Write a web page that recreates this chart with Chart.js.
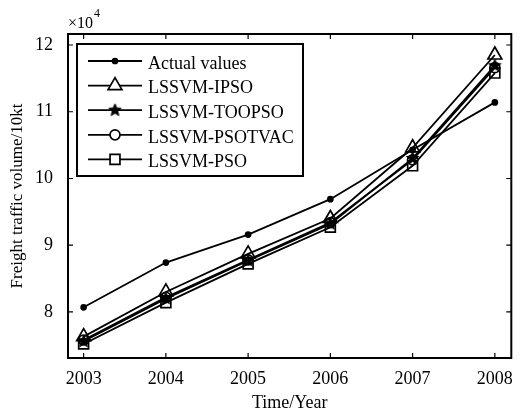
<!DOCTYPE html>
<html>
<head>
<meta charset="utf-8">
<script src="https://cdn.jsdelivr.net/npm/chart.js@4.4.1/dist/chart.umd.min.js"></script>
<style>
  html, body { margin: 0; padding: 0; background: #fff; }
  #wrap { width: 521px; height: 412px; }
</style>
</head>
<body>
<div id="wrap"><canvas id="freightChart" width="521" height="412"></canvas></div>
<script>
// values in units of 10^4 x 10kt
const years = [2003, 2004, 2005, 2006, 2007, 2008];
const actualValues = [8.07, 8.74, 9.16, 9.69, 10.43, 11.14];
const ipsoValues = [7.63, 8.30, 8.87, 9.40, 10.46, 11.85];
const tooPsoValues = [7.56, 8.20, 8.77, 9.32, 10.30, 11.69];
const psotvacValues = [7.58, 8.22, 8.78, 9.34, 10.28, 11.66];
const psoValues = [7.52, 8.14, 8.72, 9.27, 10.19, 11.58];
const seriesLabels = ['Actual values', 'LSSVM-IPSO', 'LSSVM-TOOPSO', 'LSSVM-PSOTVAC', 'LSSVM-PSO'];
const xTicks = [2003, 2004, 2005, 2006, 2007, 2008];
const yTicks = [8, 9, 10, 11, 12];

const FONT = "'Liberation Serif', 'Times New Roman', serif";

// filled pentagram marker for TOOPSO
function makeStar(r) {
    const c = document.createElement('canvas');
    const s = Math.ceil(r * 2 + 2);
    c.width = s; c.height = s;
    const g = c.getContext('2d');
    g.fillStyle = '#000';
    g.strokeStyle = '#000';
    g.lineWidth = 1;
    g.beginPath();
    for (let i = 0; i < 10; i++) {
        const rad = i % 2 === 0 ? r : r * 0.45;
        const a = -Math.PI / 2 + i * Math.PI / 5;
        const px = s / 2 + rad * Math.cos(a);
        const py = s / 2 + rad * Math.sin(a);
        if (i === 0) g.moveTo(px, py); else g.lineTo(px, py);
    }
    g.closePath();
    g.fill();
    g.stroke();
    return c;
}
const starImg = makeStar(6.5);

function pts(values) {
    return values.map((v, i) => ({ x: years[i], y: v }));
}

const markerStyles = [
    { pointStyle: 'circle', radius: 2.5, filled: true },
    { pointStyle: 'triangle', radius: 8, filled: false },
    { pointStyle: starImg, radius: 6.5, filled: true },
    { pointStyle: 'circle', radius: 5, filled: false },
    { pointStyle: 'rect', radius: 7, filled: false }
];
const seriesData = [actualValues, ipsoValues, tooPsoValues, psotvacValues, psoValues];

const datasets = seriesData.map((vals, i) => ({
    label: seriesLabels[i],
    data: pts(vals),
    borderColor: '#000',
    borderWidth: 1.8,
    backgroundColor: markerStyles[i].filled ? '#000' : 'rgba(255,255,255,0)',
    pointStyle: markerStyles[i].pointStyle,
    pointRadius: markerStyles[i].radius,
    pointBorderColor: '#000',
    pointBorderWidth: 1.7,
    pointBackgroundColor: markerStyles[i].filled ? '#000' : 'rgba(255,255,255,0)',
    tension: 0,
    fill: false
}));

// box, inward ticks, legend and exponent label (MATLAB look)
const matlabFrame = {
    id: 'matlabFrame',
    afterDraw(chart) {
        const { ctx, chartArea: a, scales } = chart;
        ctx.save();
        ctx.strokeStyle = '#000';
        ctx.lineWidth = 2;
        ctx.strokeRect(a.left, a.top, a.right - a.left, a.bottom - a.top);

        const tl = 5;
        ctx.lineWidth = 1.2;
        ctx.beginPath();
        xTicks.forEach(t => {
            const px = scales.x.getPixelForValue(t);
            ctx.moveTo(px, a.bottom); ctx.lineTo(px, a.bottom - tl);
            ctx.moveTo(px, a.top); ctx.lineTo(px, a.top + tl);
        });
        yTicks.forEach(t => {
            const py = scales.y.getPixelForValue(t);
            ctx.moveTo(a.left, py); ctx.lineTo(a.left + tl, py);
            ctx.moveTo(a.right, py); ctx.lineTo(a.right - tl, py);
        });
        ctx.stroke();

        // exponent
        ctx.fillStyle = '#000';
        ctx.textBaseline = 'alphabetic';
        ctx.textAlign = 'left';
        ctx.font = '16px ' + FONT;
        ctx.fillText('\u00d710', a.left, 28);
        ctx.font = '12px ' + FONT;
        ctx.fillText('4', a.left + 26, 17);

        // legend
        const box = { l: 77, t: 44, r: 303, b: 176 };
        ctx.fillStyle = '#fff';
        ctx.fillRect(box.l, box.t, box.r - box.l, box.b - box.t);
        ctx.lineWidth = 2;
        ctx.strokeRect(box.l, box.t, box.r - box.l, box.b - box.t);
        ctx.font = '18px ' + FONT;
        ctx.textBaseline = 'middle';
        chart.data.datasets.forEach((ds, i) => {
            const y = 63 + i * 24.6;
            ctx.strokeStyle = '#000';
            ctx.lineWidth = 1.8;
            ctx.beginPath();
            ctx.moveTo(88, y - 2); ctx.lineTo(142, y - 2);
            ctx.stroke();
            ctx.fillStyle = markerStyles[i].filled ? '#000' : '#fff';
            ctx.lineWidth = ds.pointBorderWidth;
            Chart.helpers.drawPoint(ctx, {
                pointStyle: ds.pointStyle,
                radius: ds.pointRadius,
                borderWidth: ds.pointBorderWidth,
                rotation: 0
            }, 115, y - 2);
            ctx.fillStyle = '#000';
            ctx.fillText(ds.label, 148, y + 1);
        });
        ctx.restore();
    }
};

const tickFont = { family: FONT, size: 18 };

new Chart(document.getElementById('freightChart'), {
    type: 'line',
    data: { datasets },
    options: {
        responsive: false,
        animation: false,
        layout: { padding: { top: 34, right: 2, left: 0, bottom: 0 } },
        plugins: { legend: { display: false }, tooltip: { enabled: false } },
        scales: {
            x: {
                type: 'linear',
                min: 2002.81,
                max: 2008.2,
                grid: { display: false },
                border: { display: false },
                afterBuildTicks: s => { s.ticks = xTicks.map(v => ({ value: v })); },
                afterFit: s => { s.height = 54; },
                ticks: {
                    color: '#000',
                    font: tickFont,
                    padding: 2,
                    maxRotation: 0,
                    callback: v => String(v)
                },
                title: {
                    display: true,
                    text: 'Time/Year',
                    color: '#000',
                    font: { family: FONT, size: 18, lineHeight: 1.0 },
                    padding: { top: 0, bottom: 0 }
                }
            },
            y: {
                type: 'linear',
                min: 7.31,
                max: 12.165,
                grid: { display: false },
                border: { display: false },
                afterBuildTicks: s => { s.ticks = yTicks.map(v => ({ value: v })); },
                afterFit: s => { s.width = 68; },
                ticks: {
                    color: '#000',
                    font: tickFont,
                    padding: 7,
                    callback: v => String(v)
                },
                title: {
                    display: true,
                    text: 'Freight traffic volume/10kt',
                    color: '#000',
                    font: { family: FONT, size: 17 },
                    padding: { top: 7, bottom: 0 }
                }
            }
        }
    },
    plugins: [matlabFrame]
});
</script>
</body>
</html>
